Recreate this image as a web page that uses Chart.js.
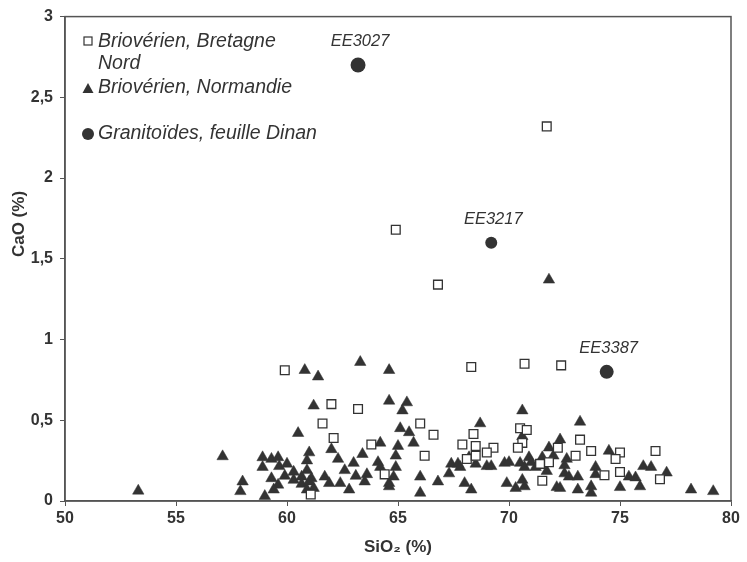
<!DOCTYPE html>
<html>
<head>
<meta charset="utf-8">
<script src="https://cdn.jsdelivr.net/npm/chart.js@4"></script>
<style>
  html, body { margin: 0; padding: 0; background: #fff; }
  #wrap { width: 747px; height: 562px; }
</style>
</head>
<body>
<div id="wrap"><canvas id="chart"></canvas></div>
<script>
// Briovérien, Bretagne Nord (open squares)
let bretagneSiO2 = [59.9, 62.0, 63.2, 61.6, 62.1, 63.8, 61.07, 64.9, 66.8, 71.7, 68.3, 70.7, 72.35, 66.0, 66.6, 66.2, 64.4,
    68.4, 67.9, 68.5, 69.3, 69.0, 68.1, 68.5, 70.5, 70.8, 70.6, 70.4, 73.2, 72.2, 73.7, 73.0, 71.4, 71.8, 71.5, 74.3,
    75.0, 74.8, 75.0, 76.6, 76.8]
let bretagneCaO = [0.81, 0.60, 0.57, 0.48, 0.39, 0.35, 0.04, 1.68, 1.34, 2.32, 0.83, 0.85, 0.84, 0.48, 0.41, 0.28, 0.165,
    0.415, 0.35, 0.34, 0.33, 0.30, 0.26, 0.28, 0.45, 0.44, 0.36, 0.33, 0.38, 0.33, 0.31, 0.28, 0.23, 0.24, 0.125, 0.16,
    0.30, 0.26, 0.18, 0.31, 0.135]

// Briovérien, Normandie (filled triangles)
let normandieSiO2 = [53.3, 57.1, 58.0, 57.9, 59.0, 58.9, 59.3, 59.6, 58.9, 59.65, 60.0, 60.9, 60.9, 62.3, 63.0, 63.4, 62.6,
    60.3, 59.9, 59.3, 60.3, 60.66, 61.1, 61.7, 63.1, 63.6, 59.6, 60.66, 61.9, 62.4, 63.5, 59.4, 61.2, 62.8, 60.9, 61.0,
    60.8, 61.4, 63.3, 61.2, 60.5, 61.0, 62.0, 64.6, 64.6, 65.4, 65.2, 65.1, 65.5, 65.7, 64.2, 65.0, 64.9, 64.1, 64.2,
    64.9, 64.8, 64.6, 64.6, 66.0, 66.0, 66.8, 67.3, 67.4, 67.7, 67.8, 68.2, 68.5, 68.7, 68.0, 68.3, 69.0, 69.2,
    70.6, 73.2, 70.6, 72.3, 71.8, 74.5, 69.8, 70.0, 70.5, 70.9, 71.0, 70.7, 71.2, 71.5, 72.0, 71.7, 72.6, 72.5, 72.5,
    72.7, 73.1, 73.9, 73.9, 69.9, 70.3, 70.6, 70.7, 72.15, 72.3, 73.1, 73.7, 73.7, 76.05, 76.4, 75.4, 75.7, 75.9,
    75.0, 77.1, 78.2, 79.2, 71.8]
let normandieCaO = [0.063, 0.276, 0.12, 0.06, 0.03, 0.27, 0.26, 0.27, 0.21, 0.215, 0.23, 0.25, 0.19, 0.26, 0.235, 0.29, 0.19,
    0.18, 0.155, 0.14, 0.13, 0.15, 0.14, 0.15, 0.155, 0.165, 0.10, 0.105, 0.11, 0.11, 0.12, 0.07, 0.08, 0.07, 0.07, 0.12,
    0.81, 0.77, 0.86, 0.59, 0.42, 0.30, 0.32, 0.81, 0.62, 0.61, 0.56, 0.45, 0.425, 0.36, 0.36, 0.34, 0.28, 0.24, 0.21,
    0.21, 0.15, 0.11, 0.09, 0.15, 0.05, 0.12, 0.17, 0.23, 0.23, 0.21, 0.27, 0.23, 0.48, 0.11, 0.07, 0.215, 0.215,
    0.56, 0.49, 0.40, 0.38, 0.33, 0.31, 0.235, 0.24, 0.235, 0.27, 0.24, 0.21, 0.21, 0.27, 0.28, 0.185, 0.26, 0.22, 0.17,
    0.15, 0.15, 0.21, 0.165, 0.11, 0.08, 0.13, 0.09, 0.085, 0.08, 0.07, 0.09, 0.05, 0.215, 0.21, 0.15, 0.145, 0.09,
    0.085, 0.175, 0.07, 0.06, 1.37]

// Granitoïdes, feuille Dinan (filled circles, labelled)
let graniteSiO2 = [63.2, 69.2, 74.4]
let graniteCaO = [2.7, 1.6, 0.8]
let graniteNames = ['EE3027', 'EE3217', 'EE3387']

let xTicks = [50, 55, 60, 65, 70, 75, 80]
let yTicks = [0, 0.5, 1, 1.5, 2, 2.5, 3]

const ink = '#333333'
const narrow = '"Liberation Sans Narrow", "Arial Narrow", "Liberation Sans", Arial, sans-serif'
const toPoints = (xs, ys) => xs.map((x, i) => ({x: x, y: ys[i]}))

// frame, y title, sample names and the in-plot legend
const extras = {
    id: 'extras',
    afterDatasetsDraw(chart) {
        const c = chart.ctx
        const a = chart.chartArea
        c.save()
        c.strokeStyle = '#555'
        c.lineWidth = 1.5
        c.strokeRect(a.left, a.top, a.right - a.left, a.bottom - a.top)

        // y axis title
        c.save()
        c.translate(19, 224)
        c.rotate(-Math.PI / 2)
        c.fillStyle = ink
        c.font = 'bold 17px ' + narrow
        c.textAlign = 'center'
        c.textBaseline = 'middle'
        c.fillText('CaO (%)', 0, 0)
        c.restore()

        c.fillStyle = ink
        c.font = 'italic 16.5px "Liberation Sans", Arial, sans-serif'
        c.textAlign = 'center'
        c.textBaseline = 'alphabetic'
        const meta = chart.getDatasetMeta(2)
        meta.data.forEach((p, i) => {
            c.fillText(graniteNames[i], p.x + 2, p.y - 19)
        })

        // legend
        const lx = 88
        c.textAlign = 'left'
        c.textBaseline = 'middle'
        c.font = 'italic 19.5px "Liberation Sans", Arial, sans-serif'
        c.lineWidth = 1.2
        c.strokeStyle = ink
        c.fillStyle = '#fff'
        c.fillRect(lx - 4, 37, 8, 8)
        c.strokeRect(lx - 4, 37, 8, 8)
        c.fillStyle = ink
        c.fillText('Briovérien, Bretagne', 98, 42)
        c.fillText('Nord', 98, 64)
        c.beginPath()
        c.moveTo(lx, 83); c.lineTo(lx + 5.5, 93); c.lineTo(lx - 5.5, 93); c.closePath()
        c.fill()
        c.fillText('Briovérien, Normandie', 98, 88)
        c.beginPath()
        c.arc(lx, 134, 6, 0, Math.PI * 2)
        c.fill()
        c.fillText('Granitoïdes, feuille Dinan', 98, 134)
        c.restore()
    }
}

const tickFont = {family: narrow, size: 16, weight: 'bold'}

new Chart(document.getElementById('chart'), {
    type: 'scatter',
    data: {
        datasets: [
            {
                label: 'Briovérien, Bretagne Nord',
                data: toPoints(bretagneSiO2, bretagneCaO),
                pointStyle: 'rect',
                pointRadius: 6.2,
                pointBorderWidth: 1.3,
                borderColor: ink,
                backgroundColor: '#fff'
            },
            {
                label: 'Briovérien, Normandie',
                data: toPoints(normandieSiO2, normandieCaO),
                pointStyle: 'triangle',
                pointRadius: 6.6,
                pointBorderWidth: 0.5,
                borderColor: ink,
                backgroundColor: ink
            },
            {
                label: 'Granitoïdes, feuille Dinan',
                data: toPoints(graniteSiO2, graniteCaO),
                pointStyle: 'circle',
                pointRadius: [7.5, 6, 7],
                pointBorderWidth: 0,
                borderColor: ink,
                backgroundColor: ink
            }
        ]
    },
    options: {
        responsive: true,
        maintainAspectRatio: false,
        animation: false,
        layout: {padding: {top: 12, right: 16, left: 0, bottom: 0}},
        plugins: {
            legend: {display: false},
            tooltip: {enabled: false}
        },
        scales: {
            x: {
                type: 'linear',
                min: 50,
                max: 80,
                afterBuildTicks: s => { s.ticks = xTicks.map(v => ({value: v})) },
                afterFit: s => { s.height = 61 },
                grid: {display: true, drawOnChartArea: false, drawTicks: true, tickLength: 5, color: '#555'},
                border: {display: true, color: '#555', width: 1.5},
                ticks: {color: ink, font: tickFont, padding: 3, maxRotation: 0},
                title: {display: true, text: 'SiO₂ (%)', color: ink, font: {family: narrow, size: 17, weight: 'bold'}, padding: {top: 2}}
            },
            y: {
                type: 'linear',
                min: 0,
                max: 3,
                afterBuildTicks: s => { s.ticks = yTicks.map(v => ({value: v})) },
                afterFit: s => { s.width = 65 },
                grid: {display: true, drawOnChartArea: false, drawTicks: true, tickLength: 5, color: '#555'},
                border: {display: true, color: '#555', width: 1.5},
                ticks: {
                    color: ink, font: tickFont, padding: 7,
                    callback: v => String(v).replace('.', ',')
                },
                title: {display: false}
            }
        }
    },
    plugins: [extras]
});
</script>
</body>
</html>
